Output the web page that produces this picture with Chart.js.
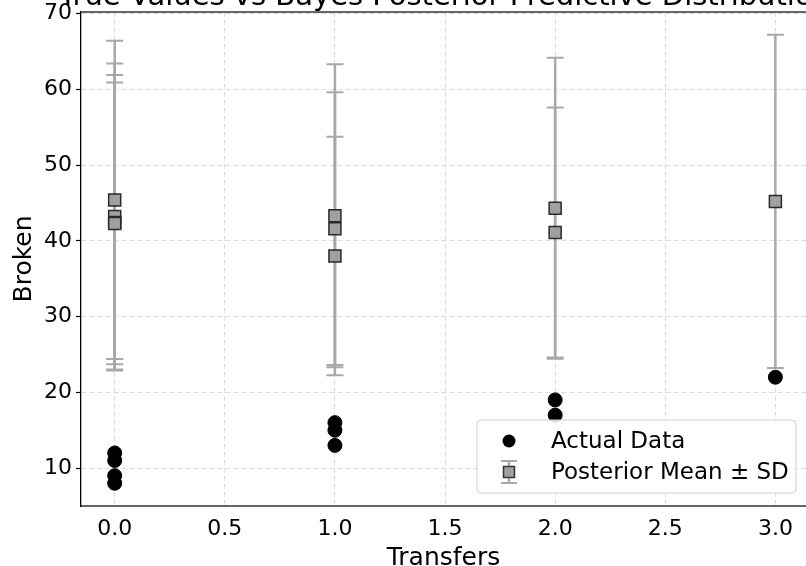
<!DOCTYPE html>
<html lang="en">
<head>
<meta charset="UTF-8">
<title>True Values vs Bayes Posterior Predictive Distribution</title>
<script src="https://cdn.jsdelivr.net/npm/chart.js"></script>
<style>
    body { margin: 0; background: #fff; }
    .wrap { width: 806px; height: 566px; }
</style>
</head>
<body>
<div class="wrap"><canvas id="grafico"></canvas></div>
<script>
    const titulo = 'True Values vs Bayes Posterior Predictive Distribution';

    // actual data
    const actualTransfers = [0, 0, 0, 0, 1, 1, 1, 2, 2, 3];
    const actualBroken = [12, 11, 9, 8, 16, 15, 13, 19, 17, 22];

    // posterior predictive mean and sd, one per observation
    const postTransfers = [0, 0, 0, 0, 1, 1, 1, 2, 2, 3];
    const postMean = [45.4, 43.2, 42.4, 42.3, 43.3, 41.6, 38.0, 44.3, 41.1, 45.2];
    const postSd = [21.0, 20.2, 19.5, 18.6, 20.0, 18.0, 15.75, 19.85, 16.5, 22.0];

    const xTicks = [0, 0.5, 1, 1.5, 2, 2.5, 3];
    const yTicks = [10, 20, 30, 40, 50, 60, 70];

    const fonte = 'DejaVu Sans';
    const corBarra = '#a8a8a8';
    const corQuadrado = '#a0a0a0';

    function desenhaBarra(ctx, x, yLo, yHi, cap) {
        ctx.strokeStyle = corBarra;
        ctx.lineWidth = 2.5;
        ctx.beginPath();
        ctx.moveTo(x, yLo);
        ctx.lineTo(x, yHi);
        ctx.stroke();
        ctx.lineWidth = 2;
        ctx.beginPath();
        ctx.moveTo(x - cap, yLo); ctx.lineTo(x + cap, yLo);
        ctx.moveTo(x - cap, yHi); ctx.lineTo(x + cap, yHi);
        ctx.stroke();
    }

    const errorBars = {
        id: 'errorBars',
        beforeDatasetsDraw(chart) {
            const { ctx, scales: { x, y } } = chart;
            ctx.save();
            postMean.forEach((m, i) => {
                const px = x.getPixelForValue(postTransfers[i]);
                desenhaBarra(ctx, px, y.getPixelForValue(m - postSd[i]), y.getPixelForValue(m + postSd[i]), 8.5);
            });
            ctx.restore();
        }
    };

    const extras = {
        id: 'extras',
        afterDraw(chart) {
            const { ctx, chartArea: a, scales: { x } } = chart;
            ctx.save();

            // top spine
            ctx.strokeStyle = '#666';
            ctx.lineWidth = 2;
            ctx.beginPath();
            ctx.moveTo(a.left, a.top);
            ctx.lineTo(a.right, a.top);
            ctx.stroke();

            // title (cut off at the top like the original)
            ctx.fillStyle = '#000';
            ctx.font = '29px "' + fonte + '"';
            ctx.textAlign = 'center';
            ctx.textBaseline = 'alphabetic';
            ctx.fillText(titulo, x.getPixelForValue(1.5), 5);

            // legend
            const bx = a.right - 329, by = a.bottom - 86, bw = 319, bh = 73;
            ctx.beginPath();
            ctx.roundRect(bx, by, bw, bh, 4);
            ctx.fillStyle = 'rgba(255,255,255,0.85)';
            ctx.fill();
            ctx.strokeStyle = '#d0d0d0';
            ctx.lineWidth = 1;
            ctx.stroke();

            const ix = bx + 32;
            const y1 = by + 21, y2 = by + 52;
            ctx.fillStyle = '#000';
            ctx.beginPath();
            ctx.arc(ix, y1, 6.5, 0, Math.PI * 2);
            ctx.fill();

            desenhaBarra(ctx, ix, y2 + 11, y2 - 11, 8);
            ctx.fillStyle = corQuadrado;
            ctx.fillRect(ix - 5.5, y2 - 5.5, 11, 11);
            ctx.strokeStyle = '#333';
            ctx.lineWidth = 1.5;
            ctx.strokeRect(ix - 5.5, y2 - 5.5, 11, 11);

            ctx.fillStyle = '#000';
            ctx.font = '23px "' + fonte + '"';
            ctx.textAlign = 'left';
            ctx.textBaseline = 'middle';
            ctx.fillText('Actual Data', bx + 74, y1 + 1);
            ctx.fillText('Posterior Mean \u00b1 SD', bx + 74, y2 + 1);

            ctx.restore();
        }
    };

    new Chart(document.getElementById('grafico'), {
        type: 'scatter',
        data: {
            datasets: [
                {
                    label: 'Actual Data',
                    data: actualTransfers.map((t, i) => ({ x: t, y: actualBroken[i] })),
                    pointStyle: 'circle',
                    pointRadius: 7,
                    backgroundColor: '#000',
                    borderColor: '#000',
                    borderWidth: 1
                },
                {
                    label: 'Posterior Mean \u00b1 SD',
                    data: postTransfers.map((t, i) => ({ x: t, y: postMean[i] })),
                    pointStyle: 'rect',
                    pointRadius: 8.5,
                    backgroundColor: corQuadrado,
                    borderColor: '#2a2a2a',
                    borderWidth: 1.5
                }
            ]
        },
        options: {
            responsive: true,
            maintainAspectRatio: false,
            animation: false,
            events: [],
            layout: { autoPadding: false, padding: { top: 12, left: 0, right: 0, bottom: 0 } },
            plugins: { legend: { display: false }, tooltip: { enabled: false } },
            scales: {
                x: {
                    type: 'linear',
                    min: -0.153,
                    max: 3.139,
                    afterBuildTicks: s => { s.ticks = xTicks.map(v => ({ value: v })); },
                    afterFit: s => { s.height = 60; s.paddingLeft = 0; s.paddingRight = 0; },
                    grid: { color: '#dcdcdc', lineWidth: 1, drawTicks: false },
                    border: { display: true, color: '#666', width: 2, dash: [5, 3] },
                    ticks: {
                        padding: 10,
                        color: '#000',
                        font: { family: fonte, size: 22 },
                        callback: v => v.toFixed(1)
                    },
                    title: {
                        display: true,
                        text: 'Transfers',
                        color: '#000',
                        font: { family: fonte, size: 25, lineHeight: 0.6 },
                        padding: 0
                    }
                },
                y: {
                    min: 5,
                    max: 70.2,
                    afterBuildTicks: s => { s.ticks = yTicks.map(v => ({ value: v })); },
                    afterFit: s => { s.width = 81; s.paddingTop = 0; s.paddingBottom = 0; },
                    grid: {
                        color: '#dcdcdc', lineWidth: 1,
                        tickLength: 5, tickColor: '#000', tickWidth: 1.2, tickBorderDash: []
                    },
                    border: { display: true, color: '#000', width: 1.3, dash: [5, 3] },
                    ticks: {
                        padding: 4,
                        color: '#000',
                        font: { family: fonte, size: 22 }
                    },
                    title: {
                        display: true,
                        text: 'Broken',
                        color: '#000',
                        font: { family: fonte, size: 25, lineHeight: 0.75 },
                        padding: { top: 15, bottom: 0 }
                    }
                }
            }
        },
        plugins: [errorBars, extras]
    });
</script>
</body>
</html>
